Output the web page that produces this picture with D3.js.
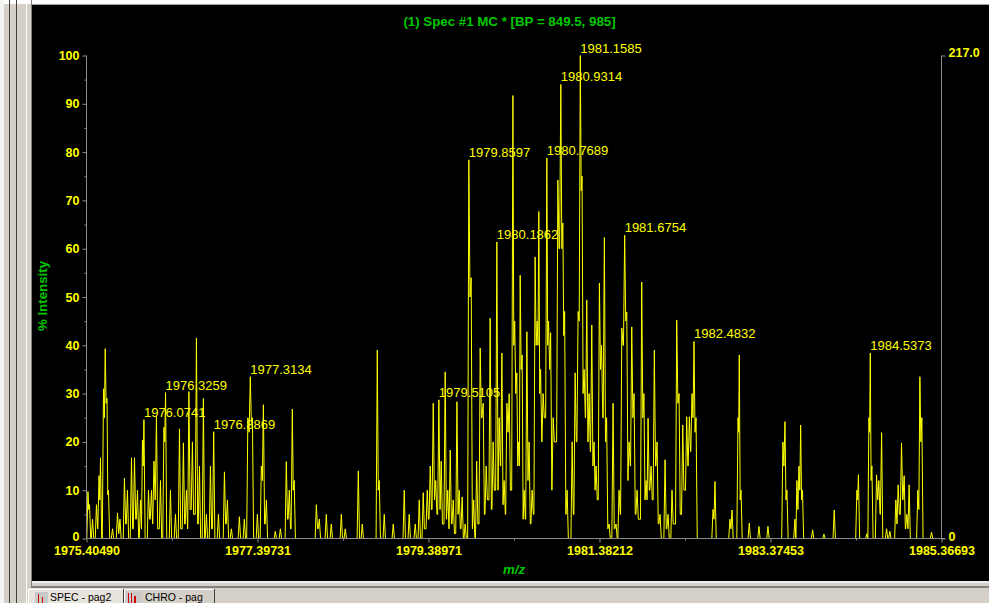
<!DOCTYPE html>
<html>
<head>
<meta charset="utf-8">
<script src="https://cdn.jsdelivr.net/npm/d3@7"></script>
<style>
  html, body { margin: 0; padding: 0; background: #d4d0c8; overflow: hidden; }
  svg { display: block; }
</style>
</head>
<body>
<svg id="chart" width="989" height="603"></svg>
<script>
// ---- Spectrum data: centroid position (m/z), apex intensity (%) and the
// ---- intensity of the valley that follows each peak.
const peakMz = [
  // 1975.4 - 1977.9
  1975.422, 1975.440, 1975.475, 1975.521, 1975.551, 1975.568, 1975.603, 1975.623, 1975.644, 1975.661,
  1975.708, 1975.766, 1975.795, 1975.847, 1975.882, 1975.929, 1975.964, 1975.999, 1976.034, 1976.057,
  1976.0741, 1976.127, 1976.162, 1976.191, 1976.220, 1976.267, 1976.307, 1976.3259, 1976.383, 1976.441,
  1976.488, 1976.534, 1976.569, 1976.598, 1976.639, 1976.686, 1976.721, 1976.767, 1976.802, 1976.849,
  1976.8869, 1976.942, 1977.012, 1977.047, 1977.093, 1977.186, 1977.244, 1977.285, 1977.3134, 1977.338,
  1977.396, 1977.442, 1977.466, 1977.501, 1977.605, 1977.664, 1977.733, 1977.768, 1977.803, 1977.825,
  // 1978.0 - 1982.5
  1978.083, 1978.118, 1978.199, 1978.257, 1978.374, 1978.420, 1978.572, 1978.618, 1978.793, 1978.816,
  1978.874, 1978.979, 1979.107, 1979.165, 1979.235, 1979.282, 1979.328, 1979.375, 1979.410, 1979.445,
  1979.474, 1979.5105, 1979.538, 1979.584, 1979.614, 1979.643, 1979.678, 1979.721, 1979.747, 1979.782,
  1979.817, 1979.8597, 1979.887, 1979.916, 1979.951, 1979.992, 1980.027, 1980.062, 1980.108, 1980.143,
  1980.1862, 1980.213, 1980.245, 1980.271, 1980.303, 1980.330, 1980.373, 1980.394, 1980.419, 1980.440,
  1980.458, 1980.481, 1980.504, 1980.536, 1980.562, 1980.597, 1980.632, 1980.656, 1980.675, 1980.696,
  1980.725, 1980.7689, 1980.789, 1980.813, 1980.842, 1980.897, 1980.9314, 1980.955, 1980.976, 1981.005,
  1981.063, 1981.098, 1981.133, 1981.1585, 1981.179, 1981.203, 1981.234, 1981.261, 1981.292, 1981.319,
  1981.342, 1981.381, 1981.406, 1981.439, 1981.465, 1981.494, 1981.540, 1981.575, 1981.610, 1981.642,
  1981.6754, 1981.700, 1981.727, 1981.758, 1981.785, 1981.820, 1981.874, 1981.900, 1981.925, 1981.948,
  1981.983, 1982.021, 1982.053, 1982.088, 1982.146, 1982.181, 1982.227, 1982.282, 1982.309, 1982.352,
  1982.398, 1982.429, 1982.460, 1982.4832, 1982.507,
  // 1982.7 - 1985.3
  1982.705, 1982.728, 1982.902, 1982.926, 1982.996, 1983.011, 1983.031, 1983.127, 1983.240, 1983.345,
  1983.519, 1983.543, 1983.566, 1983.659, 1983.682, 1983.706, 1983.726, 1983.747, 1983.865, 1983.997,
  1984.117, 1984.381, 1984.399, 1984.497, 1984.521, 1984.5373, 1984.556, 1984.610, 1984.637, 1984.669,
  1984.727, 1984.765, 1984.835, 1984.862, 1984.901, 1984.932, 1984.963, 1984.990, 1985.091, 1985.115,
  1985.138, 1985.251
];

const peakIntensity = [
  9.7, 7, 4, 7, 13, 16.7, 31, 39.3, 29, 10,
  2, 5.3, 4, 12.5, 10, 16.7, 16.7, 10, 8, 20.4,
  24.6, 10, 10, 16, 25.3, 12, 23, 30.2, 10, 5,
  22.7, 19.8, 10, 30.4, 20, 41.5, 15, 29, 5, 15,
  22.1, 5, 13.8, 8, 2, 4.5, 4, 25, 33.5, 25,
  5, 15, 27.7, 8, 1.5, 2, 15.9, 10, 26.8, 12,

  7, 4, 5, 3, 5, 2, 14, 3, 39, 12,
  5, 3, 10, 5, 3, 8, 9.5, 10, 15, 28,
  12, 28.7, 16, 34.5, 10, 18.3, 8, 28.3, 10, 8.6,
  3, 78.4, 54, 8, 16, 39.4, 28, 15, 45.6, 20,
  61.4, 25, 38.4, 12, 28, 30, 91.7, 45, 34.3, 20,
  54.5, 38, 10, 42.8, 20, 10, 58.3, 45, 67.7, 35,
  30, 78.8, 45, 42.6, 25, 74.2, 94, 65.3, 47, 10,
  20, 34.3, 47, 100, 75, 35, 49.4, 30, 44.2, 20,
  15, 52.9, 40, 62.3, 25, 3, 28, 3, 10, 43.6,
  62.8, 46.9, 20, 43.8, 30, 10, 53.1, 30, 12, 24.9,
  15, 39, 20, 5, 16.3, 5, 10, 45.2, 30, 23.5,
  25.2, 25.2, 30, 40.8, 25,

  6, 11.8, 4, 5.9, 25, 38, 10, 3.2, 2.5, 2.5,
  20, 24.2, 10, 4, 12, 15, 23.5, 10, 1.8, 0.9,
  5.9, 10, 13.2, 1, 25, 38.4, 15, 13.2, 12, 21.9,
  2, 1.5, 8, 11.1, 19.8, 13, 5, 11.1, 10, 33.5,
  25, 1.3
];

const valleyAfter = [
  6, 0, 0, 2, 8, 0, 25, 28, 9, 0,
  0, 1, 0, 3, 0, 2, 4, 0, 2, 15,
  0, 4, 3, 8, 2, 0, 20, 0, 0, 0,
  2, 3, 2, 6, 5, 3, 0, 0, 0, 2,
  0, 0, 3, 0, 0, 0, 0, 22, 24, 0,
  0, 12, 3, 0, 0, 0, 4, 2, 10, 0,

  2, 0, 0, 0, 0, 0, 0, 0, 10, 0,
  0, 0, 0, 0, 0, 0, 2, 4, 6, 8,
  5, 6, 3, 4, 2, 3, 1, 5, 2, 0,
  0, 50, 2, 0, 3, 25, 5, 8, 6, 10,
  10, 15, 7, 5, 22, 10, 40, 30, 15, 15,
  35, 4, 4, 12, 3, 5, 40, 40, 30, 20,
  25, 40, 35, 10, 20, 60, 60, 42, 5, 0,
  5, 20, 45, 72, 30, 25, 20, 18, 15, 10,
  8, 35, 25, 20, 2, 0, 2, 0, 5, 40,
  45, 12, 15, 25, 5, 4, 25, 8, 8, 10,
  8, 15, 3, 0, 2, 0, 3, 28, 5, 10,
  15, 18, 25, 22, 0,

  4, 0, 2, 0, 22, 8, 0, 0, 0, 0,
  15, 8, 0, 0, 6, 10, 8, 0, 0, 0,
  0, 8, 0, 0, 22, 12, 0, 8, 5, 0,
  0, 0, 3, 5, 8, 2, 2, 0, 6, 20,
  0, 0
];

// Peaks annotated with their m/z value
const labelMz = [
  1976.0741, 1976.3259, 1976.8869, 1977.3134, 1979.5105, 1979.8597, 1980.1862,
  1980.7689, 1980.9314, 1981.1585, 1981.6754, 1982.4832, 1984.5373
];

// Axis ticks
const xTicks = [1975.40490, 1977.39731, 1979.38971, 1981.38212, 1983.37453, 1985.36693];
const xMinorTicks = [1976.40110, 1978.39351, 1980.38592, 1982.37832, 1984.37073];
const yTicks = [0, 10, 20, 30, 40, 50, 60, 70, 80, 90, 100];
const yMinorTicks = [5, 15, 25, 35, 45, 55, 65, 75, 85, 95];
const countTicks = [0, 217.0];

const titleText = "(1) Spec #1 MC * [BP = 849.5, 985]";
const tabNames = ["SPEC - pag2", "CHRO - pag"];

// ---- Styling
const FONT = "'Liberation Sans', Arial, Helvetica, sans-serif";
const YELLOW = "#ffff00";
const GREEN = "#00c800";
const AXIS = "#8c8c8c";

const svg = d3.select("#chart");

// ---- Application window frame around the plot panel
const frame = svg.append("g");
frame.append("rect").attr("width", 989).attr("height", 603).attr("fill", "#d4d0c8");
frame.append("rect").attr("x", 0).attr("y", 0).attr("width", 989).attr("height", 4).attr("fill", "#ffffff");
frame.append("rect").attr("x", 0).attr("y", 0).attr("width", 4).attr("height", 603).attr("fill", "#f4f4f4");
[[9.5, "#404040"], [16.5, "#404040"], [26.5, "#ffffff"], [31.5, "#808080"]].forEach(([lx, c]) => {
  frame.append("line").attr("x1", lx).attr("x2", lx).attr("y1", 0).attr("y2", 603)
    .attr("stroke", c).attr("stroke-width", 1);
});
frame.append("line").attr("x1", 32).attr("x2", 989).attr("y1", 4.5).attr("y2", 4.5)
  .attr("stroke", "#a0a0a0");
// black plot panel
frame.append("rect").attr("x", 32).attr("y", 5).attr("width", 957).attr("height", 576).attr("fill", "#000000");
// status strip below the panel
frame.append("rect").attr("x", 32).attr("y", 581).attr("width", 957).attr("height", 2).attr("fill", "#ececec");
frame.append("rect").attr("x", 32).attr("y", 586).attr("width", 957).attr("height", 2).attr("fill", "#808080");

// sheet tabs
const tabs = frame.append("g");
tabs.append("rect").attr("x", 28).attr("y", 588).attr("width", 95).attr("height", 15).attr("fill", "#e6e3dc");
tabs.append("path").attr("d", "M28.5,603 V589.5 H123.5 V603").attr("fill", "none").attr("stroke", "#ffffff");
tabs.append("line").attr("x1", 123.5).attr("x2", 123.5).attr("y1", 589).attr("y2", 603).attr("stroke", "#404040");
tabs.append("path").attr("d", "M124.5,603 V589.5 H214.5 V603").attr("fill", "none").attr("stroke", "#ffffff");
tabs.append("line").attr("x1", 214.5).attr("x2", 214.5).attr("y1", 589).attr("y2", 603).attr("stroke", "#404040");
// tab icons
tabs.append("rect").attr("x", 35).attr("y", 592).attr("width", 13).attr("height", 11).attr("fill", "#c8c8c8");
tabs.append("rect").attr("x", 38).attr("y", 594).attr("width", 1).attr("height", 9).attr("fill", "#d00000");
tabs.append("rect").attr("x", 42).attr("y", 597).attr("width", 1).attr("height", 6).attr("fill", "#d00000");
tabs.append("rect").attr("x", 126).attr("y", 592).attr("width", 15).attr("height", 11).attr("fill", "#c8c8c8");
tabs.append("rect").attr("x", 128).attr("y", 593).attr("width", 1).attr("height", 10).attr("fill", "#d00000");
tabs.append("rect").attr("x", 131).attr("y", 593).attr("width", 1).attr("height", 10).attr("fill", "#d00000");
tabs.append("rect").attr("x", 134).attr("y", 596).attr("width", 2).attr("height", 7).attr("fill", "#d00000");
[[50, tabNames[0]], [145, tabNames[1]]].forEach(([tx, name]) => {
  tabs.append("text").attr("x", tx).attr("y", 600.5).text(name)
    .attr("font-family", FONT).attr("font-size", 10.5).attr("fill", "#000000");
});

// ---- Scales
const x = d3.scaleLinear().domain([xTicks[0], xTicks[xTicks.length - 1]]).range([86.5, 941.5]);
const y = d3.scaleLinear().domain([0, 100]).range([538.5, 55.5]);
const yCount = d3.scaleLinear().domain([0, 217.0]).range([538.5, 55.5]);

// ---- Title and axis titles
svg.append("text").attr("x", 509.5).attr("y", 26).attr("text-anchor", "middle")
  .attr("font-family", FONT).attr("font-size", 13.3).attr("font-weight", "bold")
  .attr("fill", GREEN).text(titleText);

svg.append("text").attr("transform", "translate(47,296) rotate(-90)").attr("text-anchor", "middle")
  .attr("font-family", FONT).attr("font-size", 13.3).attr("font-weight", "bold")
  .attr("fill", GREEN).text("% Intensity");

svg.append("text").attr("x", 514).attr("y", 574).attr("text-anchor", "middle")
  .attr("font-family", FONT).attr("font-size", 13.3).attr("font-weight", "bold")
  .attr("font-style", "italic").attr("fill", GREEN).text("m/z");

// ---- Peak annotations
const labelGroup = svg.append("g").attr("font-family", FONT).attr("font-size", 13).attr("fill", YELLOW);
labelMz.forEach(m => {
  const i = peakMz.indexOf(m);
  labelGroup.append("text")
    .attr("x", x(m))
    .attr("y", y(peakIntensity[i]) - 3)
    .text(m.toFixed(4));
});

// ---- Profile trace: each peak rises from the previous valley to its apex
// and falls to the next valley.
const pts = [[x.range()[0], y(0)]];
const px = peakMz.map(m => x(m));
px.forEach((p, i) => {
  const gapL = i > 0 ? p - px[i - 1] : Infinity;
  const gapR = i < px.length - 1 ? px[i + 1] - p : Infinity;
  const wL = Math.min(1.2, gapL / 2);
  const wR = Math.min(1.2, gapR / 2);
  const vL = i > 0 ? valleyAfter[i - 1] : 0;
  pts.push([p - wL, y(vL)]);
  pts.push([p, y(peakIntensity[i])]);
  pts.push([p + wR, y(valleyAfter[i])]);
});
pts.push([x.range()[1], y(0)]);

svg.append("path")
  .attr("d", d3.line()(pts))
  .attr("fill", "none")
  .attr("stroke", YELLOW)
  .attr("stroke-width", 1)
  .attr("stroke-linejoin", "miter");

// ---- Axes
function styleAxis(g) {
  g.select(".domain").remove();
  g.selectAll(".tick line").attr("stroke", AXIS);
  g.selectAll(".tick text")
    .attr("fill", YELLOW)
    .attr("font-family", FONT)
    .attr("font-size", 12.5)
    .attr("font-weight", "bold");
}

// left % intensity axis
const leftAxis = svg.append("g").attr("transform", "translate(86.5,0)")
  .call(d3.axisLeft(y).tickValues(yTicks).tickSize(4).tickPadding(3).tickFormat(d3.format("d")))
  .call(styleAxis);
leftAxis.selectAll(".tick text").filter(d => d === 0).attr("dy", "0.18em");
svg.append("g").attr("transform", "translate(86.5,0)")
  .call(d3.axisLeft(y).tickValues(yMinorTicks).tickSize(2).tickFormat(""))
  .call(styleAxis);

// bottom m/z axis
svg.append("g").attr("transform", "translate(0,538.5)")
  .call(d3.axisBottom(x).tickValues(xTicks).tickSize(4).tickPadding(3.5).tickFormat(d => d.toFixed(5)))
  .call(styleAxis);
svg.append("g").attr("transform", "translate(0,538.5)")
  .call(d3.axisBottom(x).tickValues(xMinorTicks).tickSize(2).tickFormat(""))
  .call(styleAxis);

// right absolute count axis
const rightAxis = svg.append("g").attr("transform", "translate(941.5,0)")
  .call(d3.axisRight(yCount).tickValues(countTicks).tickSize(4).tickPadding(3)
    .tickFormat(d => d === 0 ? "0" : d.toFixed(1)))
  .call(styleAxis);
rightAxis.selectAll(".tick text").filter(d => d !== 0).attr("dy", "0.05em");
rightAxis.selectAll(".tick text").filter(d => d === 0).attr("dy", "0.15em");

// axis lines
const axisLines = svg.append("g").attr("stroke", AXIS).attr("stroke-width", 1);
axisLines.append("line").attr("x1", 86.5).attr("x2", 86.5).attr("y1", y(100)).attr("y2", y(0));
axisLines.append("line").attr("x1", 941.5).attr("x2", 941.5).attr("y1", y(100)).attr("y2", y(0));
axisLines.append("line").attr("x1", 86).attr("x2", 945).attr("y1", y(0)).attr("y2", y(0));
</script>
</body>
</html>
